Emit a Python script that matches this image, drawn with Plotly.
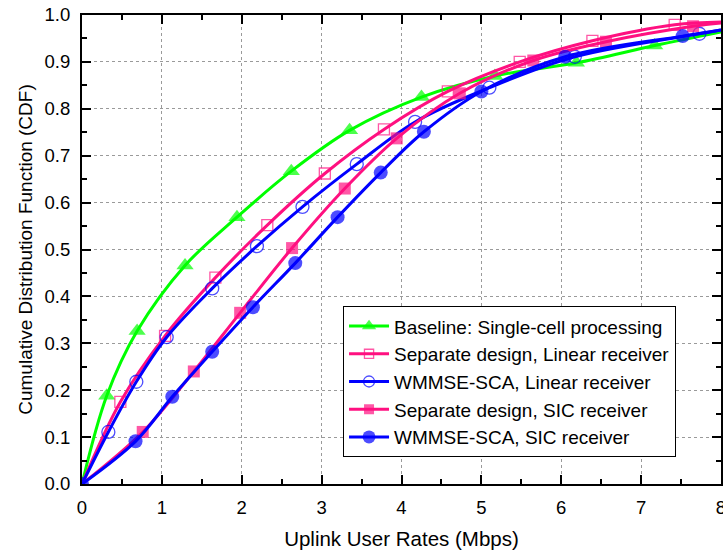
import plotly.graph_objects as go

# CDF of uplink user rates (Mbps) for five schemes.
# Each list runs from the origin, through the marked samples, to the value at 8 Mbps.
base_x = [0, 0.31, 0.69, 1.29, 1.94, 2.62, 3.35, 4.25, 5.17, 6.19, 7.17, 8.0]
base_y = [0, 0.188, 0.326, 0.466, 0.569, 0.667, 0.754, 0.825, 0.870, 0.898, 0.935, 0.964]

sep_lin_x = [0, 0.48, 1.04, 1.67, 2.32, 3.04, 3.78, 4.58, 5.48, 6.39, 7.42, 8.0]
sep_lin_y = [0, 0.175, 0.316, 0.440, 0.552, 0.662, 0.756, 0.837, 0.900, 0.945, 0.979, 0.985]

wm_lin_x = [0, 0.33, 0.68, 1.06, 1.63, 2.19, 2.76, 3.44, 4.17, 5.10, 6.17, 7.73, 8.0]
wm_lin_y = [0, 0.111, 0.218, 0.313, 0.417, 0.507, 0.591, 0.682, 0.772, 0.845, 0.911, 0.960, 0.968]

sep_sic_x = [0, 0.76, 1.40, 1.98, 2.63, 3.29, 3.94, 4.73, 5.65, 6.56, 7.65, 8.0]
sep_sic_y = [0, 0.111, 0.240, 0.365, 0.503, 0.630, 0.737, 0.833, 0.903, 0.943, 0.976, 0.983]

wm_sic_x = [0, 0.67, 1.13, 1.63, 2.14, 2.67, 3.20, 3.74, 4.28, 5.00, 6.05, 7.52, 8.0]
wm_sic_y = [0, 0.091, 0.186, 0.282, 0.377, 0.471, 0.569, 0.664, 0.751, 0.837, 0.911, 0.955, 0.968]

names = [
    "Baseline: Single-cell processing",
    "Separate design, Linear receiver",
    "WMMSE-SCA, Linear receiver",
    "Separate design, SIC receiver",
    "WMMSE-SCA, SIC receiver",
]

GREEN = "#00FF00"
PINK = "#FF1080"
BLUE = "#0000FF"

series = [
    (base_x, base_y, names[0], GREEN, "triangle-up", 15, False),
    (sep_lin_x, sep_lin_y, names[1], PINK, "square-open", 11, False),
    (wm_lin_x, wm_lin_y, names[2], BLUE, "circle-open", 13, False),
    (sep_sic_x, sep_sic_y, names[3], PINK, "square", 12, False),
    (wm_sic_x, wm_sic_y, names[4], BLUE, "circle", 14, True),
]

FONT = "Arial, 'Liberation Sans', sans-serif"

fig = go.Figure()
for xs, ys, name, color, symbol, msize, mark_origin in series:
    n = len(xs)
    # markers on the sampled points only; the 8 Mbps end carries no marker
    sizes = [msize] * n
    sizes[-1] = 0
    if not mark_origin:
        sizes[0] = 0
    fig.add_trace(go.Scatter(
        x=xs, y=ys, name=name,
        mode="lines+markers",
        line=dict(color=color, width=3, shape="spline", smoothing=1.0),
        marker=dict(symbol=symbol, size=sizes, color=color,
                    line=dict(color=color, width=1.3 if "open" in symbol else 0)),
    ))

axis_common = dict(
    showline=True, linecolor="black", linewidth=2, mirror="ticks",
    ticks="inside", ticklen=9, tickwidth=1.5, tickcolor="black",
    showgrid=True, gridcolor="#9a9a9a", gridwidth=1, griddash="dot",
    zeroline=False, ticklabeloverflow="allow", automargin=False,
    tickfont=dict(family=FONT, size=18.5, color="black"),
)

fig.update_xaxes(
    range=[0, 8], dtick=1, tick0=0,
    minor=dict(dtick=0.5, ticks="inside", ticklen=5, tickwidth=1.5, tickcolor="black", showgrid=False),
    title=dict(text="Uplink User Rates (Mbps)", font=dict(family=FONT, size=20.5, color="black"), standoff=14),
    ticklabelstandoff=6,
    **axis_common,
)
fig.update_yaxes(
    range=[0, 1], dtick=0.1, tick0=0, tickformat=".1f",
    minor=dict(dtick=0.05, ticks="inside", ticklen=5, tickwidth=1.5, tickcolor="black", showgrid=False),
    title=dict(text="Cumulative Distribution Function (CDF)", font=dict(family=FONT, size=19, color="black"), standoff=7),
    ticklabelstandoff=6,
    **axis_common,
)

fig.update_layout(
    width=723, height=552,
    margin=dict(l=82, r=2, t=15, b=68),
    paper_bgcolor="white", plot_bgcolor="white",
    font=dict(family=FONT, size=18, color="black"),
    legend=dict(
        x=0.4085, y=0.057, xanchor="left", yanchor="bottom",
        bgcolor="white", bordercolor="black", borderwidth=1,
        font=dict(family=FONT, size=19, color="black"),
        tracegroupgap=0, itemwidth=40,
    ),
    showlegend=True,
)

fig.write_html("out.html")
